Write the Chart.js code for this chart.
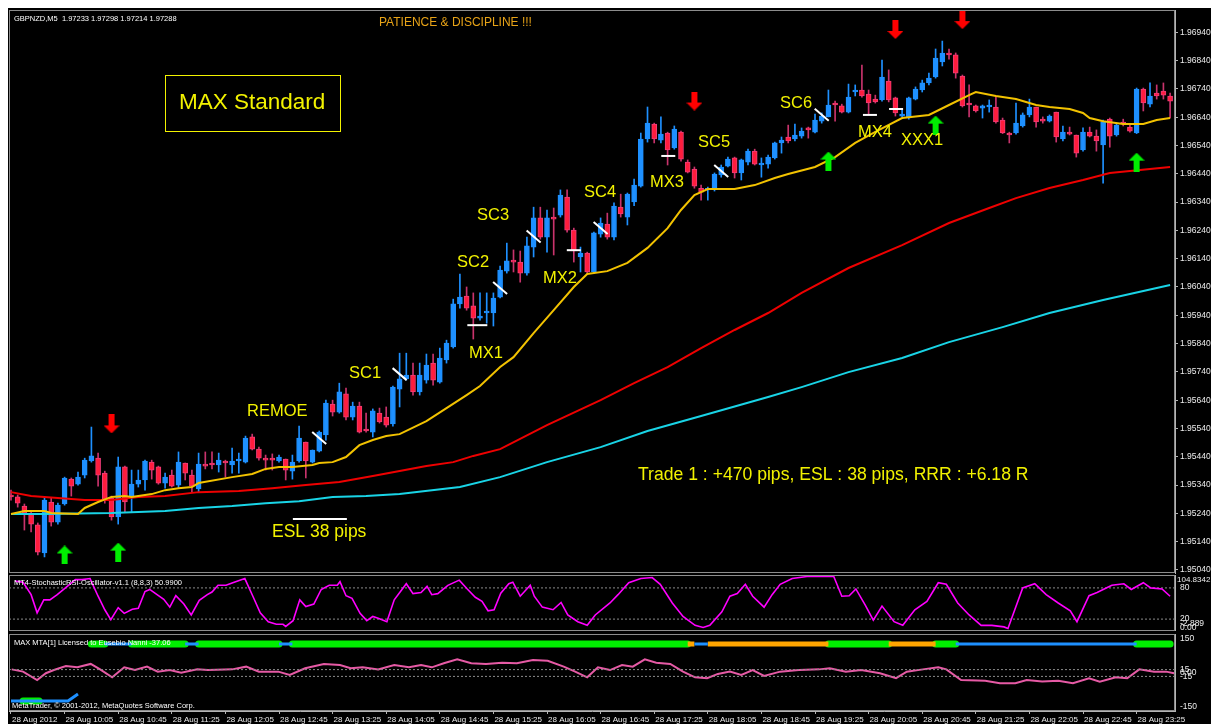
<!DOCTYPE html>
<html>
<head>
<meta charset="utf-8">
<title>GBPNZD M5</title>
<script src="https://cdn.jsdelivr.net/npm/chart.js@4.4.1/dist/chart.umd.min.js"></script>
<style>
  body { margin: 0; background: #fff; width: 1211px; height: 724px; overflow: hidden; position: relative; }
  #frame { position: absolute; left: 8px; top: 8px; width: 1203px; height: 716px; background: #000; }
  canvas { position: absolute; left: 0; }
</style>
</head>
<body>
<div id="frame"></div>
<canvas id="priceChart" width="1211" height="580" style="top:0"></canvas>
<canvas id="stochChart" width="1211" height="59" style="top:574px"></canvas>
<canvas id="mtaChart" width="1211" height="91" style="top:633px"></canvas>
<script>
// GBPNZD M5 candles, 28 Aug 2012 09:25 .. 23:50 (bar index 0..173)
const open = [
  1.95305,1.95298,1.95266,1.95241,1.95199,1.95100,1.95280,1.95209,1.95273,1.95361,
  1.95343,1.95375,1.95425,1.95435,1.95382,1.95294,1.95227,1.95404,1.95298,1.95343,
  1.95358,1.95421,1.95404,1.95347,1.95375,1.95340,1.95418,1.95375,1.95326,1.95414,
  1.95418,1.95411,1.95425,1.95411,1.95425,1.95421,1.95510,1.95467,1.95435,1.95435,
  1.95425,1.95432,1.95389,1.95425,1.95492,1.95421,1.95460,1.95517,1.95626,1.95598,
  1.95662,1.95580,1.95619,1.95538,1.95527,1.95594,1.95580,1.95556,1.95679,1.95715,
  1.95729,1.95669,1.95711,1.95771,1.95704,1.95782,1.95828,1.95980,1.96008,1.95973,
  1.95930,1.95948,1.95948,1.96004,1.96096,1.96135,1.96128,1.96089,1.96181,1.96284,
  1.96216,1.96287,1.96294,1.96358,1.96241,1.96146,1.96160,1.96093,1.96227,1.96262,
  1.96216,1.96322,1.96287,1.96341,1.96396,1.96563,1.96616,1.96559,1.96584,1.96531,
  1.96587,1.96481,1.96457,1.96389,1.96383,1.96386,1.96436,1.96467,1.96496,1.96443,
  1.96481,1.96520,1.96471,1.96474,1.96496,1.96549,1.96570,1.96563,1.96573,1.96602,
  1.96587,1.96626,1.96641,1.96690,1.96680,1.96658,1.96729,1.96736,1.96722,1.96704,
  1.96701,1.96768,1.96708,1.96644,1.96637,1.96704,1.96736,1.96761,1.96782,1.96835,
  1.96867,1.96860,1.96785,1.96690,1.96680,1.96672,1.96676,1.96676,1.96630,1.96584,
  1.96584,1.96609,1.96648,1.96676,1.96633,1.96626,1.96658,1.96563,1.96587,1.96577,
  1.96524,1.96587,1.96573,1.96542,1.96633,1.96577,1.96623,1.96605,1.96584,1.96739,
  1.96686,1.96725,1.96732,1.96715
];
const high = [
  1.95322,1.95305,1.95273,1.95251,1.95206,1.95298,1.95294,1.95276,1.95368,1.95365,
  1.95386,1.95435,1.95545,1.95453,1.95389,1.95301,1.95439,1.95407,1.95393,1.95393,
  1.95428,1.95428,1.95407,1.95382,1.95393,1.95457,1.95418,1.95393,1.95453,1.95457,
  1.95457,1.95453,1.95428,1.95471,1.95453,1.95513,1.95520,1.95474,1.95446,1.95450,
  1.95446,1.95432,1.95446,1.95548,1.95492,1.95464,1.95531,1.95640,1.95640,1.95700,
  1.95683,1.95633,1.95633,1.95594,1.95609,1.95612,1.95616,1.95690,1.95806,1.95806,
  1.95771,1.95771,1.95803,1.95803,1.95824,1.95852,1.95997,1.96086,1.96040,1.96019,
  1.96019,1.96019,1.96019,1.96114,1.96195,1.96171,1.96167,1.96216,1.96322,1.96322,
  1.96312,1.96319,1.96383,1.96383,1.96248,1.96181,1.96163,1.96234,1.96284,1.96301,
  1.96337,1.96368,1.96372,1.96421,1.96584,1.96676,1.96619,1.96641,1.96587,1.96609,
  1.96591,1.96489,1.96464,1.96400,1.96393,1.96443,1.96471,1.96499,1.96499,1.96492,
  1.96527,1.96527,1.96496,1.96506,1.96552,1.96570,1.96612,1.96616,1.96602,1.96605,
  1.96651,1.96655,1.96736,1.96697,1.96686,1.96757,1.96754,1.96824,1.96736,1.96718,
  1.96842,1.96807,1.96711,1.96665,1.96711,1.96747,1.96771,1.96796,1.96881,1.96909,
  1.96881,1.96867,1.96789,1.96754,1.96683,1.96683,1.96701,1.96715,1.96637,1.96587,
  1.96690,1.96655,1.96704,1.96676,1.96641,1.96648,1.96658,1.96609,1.96605,1.96577,
  1.96602,1.96605,1.96595,1.96630,1.96637,1.96619,1.96633,1.96612,1.96743,1.96743,
  1.96761,1.96754,1.96761,1.96725
];
const low = [
  1.95287,1.95262,1.95181,1.95174,1.95093,1.95086,1.95195,1.95202,1.95269,1.95301,
  1.95340,1.95365,1.95421,1.95336,1.95276,1.95216,1.95202,1.95245,1.95245,1.95333,
  1.95322,1.95361,1.95343,1.95329,1.95333,1.95329,1.95358,1.95315,1.95315,1.95397,
  1.95397,1.95386,1.95368,1.95382,1.95382,1.95418,1.95464,1.95428,1.95393,1.95393,
  1.95421,1.95358,1.95361,1.95421,1.95365,1.95418,1.95457,1.95499,1.95584,1.95594,
  1.95570,1.95570,1.95524,1.95527,1.95510,1.95559,1.95545,1.95548,1.95616,1.95711,
  1.95658,1.95658,1.95700,1.95693,1.95700,1.95771,1.95824,1.95965,1.95958,1.95856,
  1.95923,1.95912,1.95902,1.96001,1.96089,1.96093,1.96057,1.96082,1.96146,1.96209,
  1.96163,1.96153,1.96287,1.96234,1.96128,1.96093,1.96089,1.96089,1.96216,1.96209,
  1.96206,1.96287,1.96259,1.96327,1.96393,1.96552,1.96549,1.96549,1.96471,1.96527,
  1.96485,1.96443,1.96389,1.96347,1.96347,1.96379,1.96428,1.96464,1.96425,1.96418,
  1.96471,1.96471,1.96428,1.96460,1.96492,1.96513,1.96549,1.96556,1.96566,1.96566,
  1.96584,1.96619,1.96641,1.96626,1.96655,1.96655,1.96715,1.96711,1.96651,1.96690,
  1.96697,1.96694,1.96644,1.96641,1.96633,1.96701,1.96729,1.96754,1.96778,1.96821,
  1.96845,1.96778,1.96676,1.96641,1.96658,1.96637,1.96658,1.96619,1.96582,1.96549,
  1.96580,1.96605,1.96641,1.96605,1.96619,1.96623,1.96552,1.96556,1.96577,1.96499,
  1.96520,1.96570,1.96520,1.96407,1.96534,1.96573,1.96609,1.96587,1.96582,1.96662,
  1.96676,1.96704,1.96704,1.96637
];
const close = [
  1.95298,1.95276,1.95241,1.95202,1.95103,1.95287,1.95209,1.95269,1.95365,1.95336,
  1.95368,1.95428,1.95443,1.95375,1.95287,1.95227,1.95404,1.95280,1.95343,1.95358,
  1.95425,1.95393,1.95347,1.95368,1.95336,1.95421,1.95382,1.95336,1.95414,1.95407,
  1.95411,1.95428,1.95418,1.95425,1.95432,1.95506,1.95467,1.95435,1.95428,1.95428,
  1.95439,1.95393,1.95421,1.95506,1.95425,1.95464,1.95527,1.95630,1.95598,1.95669,
  1.95580,1.95619,1.95527,1.95531,1.95602,1.95563,1.95552,1.95686,1.95715,1.95729,
  1.95669,1.95729,1.95764,1.95711,1.95789,1.95842,1.95980,1.96004,1.95965,1.95930,
  1.95937,1.95955,1.96001,1.96100,1.96132,1.96128,1.96089,1.96185,1.96284,1.96216,
  1.96284,1.96280,1.96365,1.96241,1.96167,1.96160,1.96093,1.96231,1.96266,1.96216,
  1.96326,1.96298,1.96368,1.96400,1.96563,1.96619,1.96563,1.96580,1.96524,1.96598,
  1.96492,1.96446,1.96396,1.96375,1.96389,1.96439,1.96464,1.96492,1.96443,1.96489,
  1.96520,1.96474,1.96478,1.96499,1.96549,1.96559,1.96556,1.96577,1.96591,1.96595,
  1.96630,1.96644,1.96683,1.96683,1.96658,1.96711,1.96736,1.96715,1.96690,1.96694,
  1.96782,1.96701,1.96655,1.96651,1.96708,1.96739,1.96761,1.96778,1.96849,1.96867,
  1.96860,1.96796,1.96680,1.96683,1.96662,1.96680,1.96683,1.96623,1.96584,1.96577,
  1.96619,1.96648,1.96676,1.96623,1.96626,1.96644,1.96570,1.96587,1.96580,1.96513,
  1.96587,1.96573,1.96556,1.96623,1.96573,1.96612,1.96616,1.96591,1.96739,1.96690,
  1.96715,1.96715,1.96718,1.96697
];

// moving averages, read at these bar indexes
const maYellowBar = [0,2,5,6,10,11,13,15,17,18,20,21,23,25,27,28,33,36,38,40,42,45,46,48,50,52,54,56,58,62,65,68,70,73,75,78,81,84,86,89,92,95,98,100,102,104,108,111,114,116,120,123,126,129,133,137,140,143,144,147,150,153,155,158,160,161,163,166,169,171,173];
const maYellow = [1.95238,1.95248,1.95248,1.95241,1.95238,1.95259,1.95280,1.95298,1.95301,1.95298,1.95305,1.95308,1.95322,1.95329,1.95333,1.95347,1.95368,1.95379,1.95397,1.95404,1.95404,1.95411,1.95418,1.95421,1.95439,1.95481,1.95499,1.95513,1.95520,1.95566,1.95612,1.95658,1.95690,1.95757,1.95792,1.95877,1.95958,1.96040,1.96086,1.96096,1.96125,1.96178,1.96248,1.96312,1.96365,1.96386,1.96386,1.96400,1.96425,1.96439,1.96464,1.96499,1.96549,1.96588,1.96637,1.96648,1.96683,1.96718,1.96729,1.96715,1.96704,1.96683,1.96676,1.96669,1.96655,1.96637,1.96626,1.96616,1.96616,1.96630,1.96637];
const maRedBar = [0,3,7,11,15,19,23,28,34,39,44,49,54,58,62,66,69,73,80,88,93,98,103,108,113,118,125,133,140,146,150,155,160,164,170,173];
const maRed = [1.95315,1.95301,1.95294,1.95287,1.95287,1.95298,1.95301,1.95315,1.95319,1.95329,1.95340,1.95351,1.95372,1.95390,1.95407,1.95421,1.95443,1.95467,1.95552,1.95640,1.95700,1.95757,1.95824,1.95888,1.95948,1.96019,1.96107,1.96188,1.96266,1.96319,1.96354,1.96390,1.96418,1.96443,1.96457,1.96464];
const maCyanBar = [0,5,15,23,28,33,38,43,48,53,58,67,73,80,88,95,103,113,118,125,133,140,148,155,163,173];
const maCyan = [1.95238,1.95238,1.95241,1.95248,1.95259,1.95266,1.95276,1.95283,1.95298,1.95301,1.95308,1.95333,1.95368,1.95421,1.95474,1.95531,1.95584,1.95651,1.95686,1.95739,1.95789,1.95845,1.95898,1.95948,1.95994,1.96047];

// signal arrows
const downArrowBar = [15, 102, 132, 142];
const downArrowPrice = [1.95556, 1.96697, 1.96950, 1.96985];
const upArrowBar = [8, 16, 122, 138, 168];
const upArrowPrice = [1.95093, 1.95103, 1.96485, 1.96612, 1.96481];

// white marks drawn on the chart: [bar, price] and [bar, price, half width]
const slashMarks = [[46,1.95506],[58,1.95732],[73,1.96036],[78,1.96218],[88,1.96248],[106,1.96450],[121,1.96649]];
const dashMarks = [[69.6,1.95905,10],[84,1.96170,7],[98.1,1.96503,7],[128.2,1.96648,7],[132.1,1.96669,7],[46.1,1.95220,27]];

// StochasticRSI (8,8,3)
const stochBar = [0.6,1.8,3.0,3.9,4.9,5.8,6.9,8.4,9.6,10.6,11.8,13.0,14.0,14.9,16.0,16.9,18.1,19.0,20.0,20.7,21.8,22.8,23.7,24.6,25.8,26.9,28.1,29.3,30.0,30.9,32.1,33.1,34.9,36.1,37.2,38.4,39.6,40.6,41.0,42.1,43.1,44.0,45.2,46.3,47.5,48.7,49.1,50.0,50.9,52.1,53.1,54.0,54.9,56.1,57.2,59.0,60.0,61.2,62.1,62.8,63.7,65.2,66.9,68.1,69.3,70.3,71.2,72.1,73.1,74.3,74.9,76.0,77.5,78.1,79.3,80.9,82.1,83.1,84.6,86.0,87.2,89.4,90.6,92.2,94.0,95.7,96.9,98.7,100.3,102.1,103.3,104.3,106.1,107.3,108.4,109.6,110.7,112.4,113.6,114.8,116.6,118.8,122.8,124.0,125.1,126.1,127.5,128.7,130.0,131.8,133.1,134.9,136.7,138.4,139.6,141.3,143.0,144.8,146.4,148.2,148.8,151.0,152.8,154.5,156.3,158.1,159.1,160.9,162.1,164.3,166.1,167.2,169.0,170.1,171.8,173.0];
const stochVal = [93,91,67,32,57,57,67,83,96,96,98,64,38,19,42,31,39,41,73,77,67,58,43,65,49,28,56,67,72,85,85,90,98,64,32,15,10,10,6,17,57,44,49,77,85,85,92,65,60,31,17,25,21,15,57,88,69,71,83,67,69,85,95,78,62,54,36,38,70,88,91,64,85,64,43,38,52,28,15,8,28,51,67,90,98,100,87,51,25,8,4,8,34,64,69,87,64,43,67,87,98,102,102,64,65,78,47,18,45,15,8,38,54,90,87,51,28,8,8,5,2,80,88,67,51,36,15,65,71,85,88,77,90,80,78,64];
const stochLevels = [80, 20];

// MAX MTA
const mtaBar = [0.1,1.8,3.9,5.2,6.4,8.2,9.9,11.9,13.3,15.1,16.9,18.5,20.3,21.9,23.7,25.4,27.8,29.4,33.0,35.1,37.0,39.9,41.6,43.9,46.7,49.1,50.7,52.5,54.8,57.2,59.4,61.2,62.8,64.6,66.6,68.7,70.9,73.3,75.5,77.9,80.1,82.5,84.2,86.0,87.6,89.4,91.2,92.8,94.6,96.3,98.4,100.3,102.1,103.9,105.5,107.3,109.0,110.7,112.4,114.8,117.6,120.6,122.2,124.6,126.9,129.7,132.1,133.7,136.1,138.4,139.6,141.8,145.4,147.6,149.9,151.6,153.9,156.3,158.5,160.9,162.5,164.9,166.6,168.4,170.6,172.4,173.6];
const mtaVal = [16,6,-31,-1,13,31,25,40,16,-19,25,13,28,6,13,1,16,13,16,28,6,6,-9,21,40,35,21,25,16,35,25,35,25,43,60,43,40,45,43,57,54,28,6,-19,25,13,35,28,60,45,40,6,-19,-23,-4,6,-9,13,-13,6,13,16,21,6,13,-1,-23,6,16,25,16,-31,-34,-45,-45,-31,-38,-34,-45,-23,-38,-19,-23,16,6,6,-1];
const mtaLevels = [15, -15];
const mtaTrendLevel = 128;
const mtaSegStart = [12,14,18,26,28,40,42,101,102,104,122,131,138,141,168];
const mtaSegEnd   = [14,18,26,28,40,42,101,102,104,122,131,138,141,168,173];
const mtaSegState = ['g','b','g','b','g','b','g','o','b','o','g','o','g','b','g'];
const mtaLowBar = [0, 8.5, 10];
const mtaLowVal = [-123.5, -123.5, -93];

// axis ticks
const priceTicks = [1.9504,1.9514,1.9524,1.9534,1.9544,1.9554,1.9564,1.9574,1.9584,1.9594,1.9604,1.9614,1.9624,1.9634,1.9644,1.9654,1.9664,1.9674,1.9684,1.9694];
const timeTicks = [0,8,16,24,32,40,48,56,64,72,80,88,96,104,112,120,128,136,144,152,160,168];
const timeLabels = ['28 Aug 2012','28 Aug 10:05','28 Aug 10:45','28 Aug 11:25','28 Aug 12:05','28 Aug 12:45','28 Aug 13:25','28 Aug 14:05','28 Aug 14:45','28 Aug 15:25','28 Aug 16:05','28 Aug 16:45','28 Aug 17:25','28 Aug 18:05','28 Aug 18:45','28 Aug 19:25','28 Aug 20:05','28 Aug 20:45','28 Aug 21:25','28 Aug 22:05','28 Aug 22:45','28 Aug 23:25'];

const FONT = '"Liberation Sans", Arial, sans-serif';
const xMin = -0.2985, xMax = 173.73;
const BULL = '#1e90ff', BEAR = '#ff1d3d', BEAR_EDGE = '#f03c78', BEAR_WICK = '#c8336c';
const YELLOW_TXT = '#f2f200';
const AXIS_TXT = '#ececec';

const pts = (xs, ys) => xs.map((x, k) => ({x: x, y: ys[k]}));
const candleIdx = open.map((_, i) => i);
const isBull = candleIdx.map(i => close[i] > open[i]);

function arrowImg(color, up) {
  const c = document.createElement('canvas');
  c.width = 16; c.height = 19;
  const g = c.getContext('2d');
  g.beginPath();
  if (up) {
    g.moveTo(8, 0); g.lineTo(16, 8); g.lineTo(11, 8); g.lineTo(11, 19);
    g.lineTo(5, 19); g.lineTo(5, 8); g.lineTo(0, 8);
  } else {
    g.moveTo(8, 19); g.lineTo(16, 11); g.lineTo(11, 11); g.lineTo(11, 0);
    g.lineTo(5, 0); g.lineTo(5, 11); g.lineTo(0, 11);
  }
  g.closePath();
  g.fillStyle = color;
  g.fill();
  return c;
}

function frame(ctx, a) {
  ctx.strokeStyle = '#8c8c8c';
  ctx.lineWidth = 1;
  ctx.strokeRect(a.left + 0.5, a.top + 0.5, a.right - a.left - 1, a.bottom - a.top - 1);
  ctx.strokeStyle = '#b4b4b4';
  ctx.beginPath(); ctx.moveTo(a.right + 0.5, a.top); ctx.lineTo(a.right + 0.5, a.bottom); ctx.stroke();
}

function text(ctx, s, x, y, size, color) {
  ctx.font = size + 'px ' + FONT;
  ctx.fillStyle = color;
  ctx.textBaseline = 'middle';
  ctx.textAlign = 'left';
  ctx.fillText(s, x, y);
}

const baseOpts = (padding) => ({
  responsive: false, animation: false, devicePixelRatio: 1, events: [],
  layout: { padding: padding },
  plugins: { legend: { display: false }, tooltip: { enabled: false } }
});

// main price chart
const priceDecor = {
  id: 'priceDecor',
  afterDraw(chart) {
    const { ctx, chartArea: a, scales: { x, y } } = chart;
    ctx.save();
    frame(ctx, a);
    ctx.strokeStyle = '#ffffff';
    ctx.lineWidth = 2;
    slashMarks.forEach(([b, p]) => {
      const cx = x.getPixelForValue(b), cy = y.getPixelForValue(p);
      ctx.beginPath(); ctx.moveTo(cx - 7, cy - 6); ctx.lineTo(cx + 7, cy + 6); ctx.stroke();
    });
    dashMarks.forEach(([b, p, w]) => {
      const cx = x.getPixelForValue(b), cy = y.getPixelForValue(p);
      ctx.beginPath(); ctx.moveTo(cx - w, cy); ctx.lineTo(cx + w, cy); ctx.stroke();
    });

    text(ctx, 'GBPNZD,M5  1.97233 1.97298 1.97214 1.97288', 14, 19, 7.5, '#ffffff');
    text(ctx, 'PATIENCE & DISCIPLINE !!!', 379, 23, 12, '#e8a317');

    ctx.strokeStyle = YELLOW_TXT;
    ctx.lineWidth = 1;
    ctx.strokeRect(165.5, 75.5, 175, 56);
    text(ctx, 'MAX Standard', 179, 103, 22.5, YELLOW_TXT);

    [['REMOE', 247, 411], ['SC1', 349, 373], ['SC2', 457, 262], ['SC3', 477, 215],
     ['SC4', 584, 192], ['SC5', 698, 142], ['SC6', 780, 103], ['MX1', 469, 353],
     ['MX2', 543, 278], ['MX3', 650, 182], ['MX4', 858, 132], ['XXX1', 901, 140]]
      .forEach(([s, tx, ty]) => text(ctx, s, tx, ty, 16.5, YELLOW_TXT));
    text(ctx, 'ESL 38 pips', 272, 532, 17.5, YELLOW_TXT);
    text(ctx, 'Trade 1 : +470 pips, ESL : 38 pips, RRR : +6.18 R', 638, 475, 17.6, YELLOW_TXT);
    ctx.restore();
  }
};

new Chart(document.getElementById('priceChart'), {
  type: 'bar',
  data: {
    datasets: [
      {
        label: 'wick', order: 6, grouped: false, barThickness: 1, minBarLength: 1,
        data: candleIdx.map(i => ({x: i, y: [low[i], high[i]]})),
        backgroundColor: candleIdx.map(i => isBull[i] ? BULL : BEAR_WICK)
      },
      {
        label: 'body', order: 5, grouped: false, barThickness: 5, minBarLength: 1,
        borderWidth: 1, borderSkipped: false,
        data: candleIdx.map(i => ({x: i, y: [open[i], close[i]]})),
        backgroundColor: candleIdx.map(i => isBull[i] ? BULL : BEAR),
        borderColor: candleIdx.map(i => isBull[i] ? BULL : BEAR_EDGE)
      },
      { type: 'line', order: 4, data: pts(maCyanBar, maCyan), borderColor: '#19d4e6', borderWidth: 2, pointRadius: 0 },
      { type: 'line', order: 3, data: pts(maRedBar, maRed), borderColor: '#ee0000', borderWidth: 2, pointRadius: 0 },
      { type: 'line', order: 2, data: pts(maYellowBar, maYellow), borderColor: '#f2c200', borderWidth: 2, pointRadius: 0 },
      { type: 'line', order: 1, showLine: false, data: pts(downArrowBar, downArrowPrice), pointStyle: arrowImg('#ff0000', false) },
      { type: 'line', order: 1, showLine: false, data: pts(upArrowBar, upArrowPrice), pointStyle: arrowImg('#00ee00', true) }
    ]
  },
  options: Object.assign(baseOpts({ left: 9, top: 10, right: 0, bottom: 7 }), {
    scales: {
      x: { type: 'linear', min: xMin, max: xMax, offset: false, display: false, grid: { offset: false } },
      y: {
        type: 'linear', position: 'right', min: 1.950292, max: 1.970188, beginAtZero: false,
        afterFit(s) { s.width = 36; s.paddingTop = 0; s.paddingBottom = 0; },
        afterBuildTicks(s) { s.ticks = priceTicks.map(v => ({value: v})); },
        ticks: { color: AXIS_TXT, font: { family: FONT, size: 8.5 }, padding: 2, callback: v => v.toFixed(5) },
        grid: { drawOnChartArea: false, tickLength: 3, color: '#b4b4b4' },
        border: { color: '#b4b4b4' }
      }
    }
  }),
  plugins: [priceDecor]
});

// StochasticRSI panel
const stochDecor = {
  id: 'stochDecor',
  afterDraw(chart) {
    const { ctx, chartArea: a, scales: { y } } = chart;
    ctx.save();
    frame(ctx, a);
    text(ctx, 'MT4-StochasticRSI-Oscillator-v1.1 (8,8,3) 50.9900', 14, 9, 7.5, '#ffffff');
    text(ctx, '104.8342', a.right + 2, 6, 8, AXIS_TXT);
    const lbl = [['80', y.getPixelForValue(80)], ['20', y.getPixelForValue(20)], ['-2.889', 50], ['0.00', 54]];
    lbl.forEach(([s, ty]) => text(ctx, s, a.right + 5, ty, 8.5, AXIS_TXT));
    ctx.restore();
  }
};

new Chart(document.getElementById('stochChart'), {
  type: 'line',
  data: {
    datasets: [
      { data: pts(stochBar, stochVal), borderColor: '#ff00ff', borderWidth: 1.6, pointRadius: 0 },
    ].concat(stochLevels.map(v => ({
      data: [{x: xMin, y: v}, {x: xMax, y: v}], borderColor: '#8c8c8c', borderWidth: 1, borderDash: [2, 2], pointRadius: 0
    })))
  },
  options: Object.assign(baseOpts({ left: 9, top: 1, right: 36, bottom: 2 }), {
    scales: {
      x: { type: 'linear', min: xMin, max: xMax, display: false },
      y: { type: 'linear', min: -2.889, max: 104.8342, display: false }
    }
  }),
  plugins: [stochDecor]
});

// MAX MTA panel
const mtaDecor = {
  id: 'mtaDecor',
  afterDraw(chart) {
    const { ctx, chartArea: a, scales: { y } } = chart;
    ctx.save();
    frame(ctx, a);
    text(ctx, 'MAX MTA[1] Licensed to Eusebio Nanni -37.06', 14, 10, 7.5, '#ffffff');
    text(ctx, 'MetaTrader, \u00a9 2001-2012, MetaQuotes Software Corp.', 12, 73, 7.5, '#ffffff');
    [['150', 150], ['15', 15], ['0.00', 0], ['-15', -15], ['-150', -150]]
      .forEach(([s, v]) => text(ctx, s, a.right + 5, y.getPixelForValue(v), 8.5, AXIS_TXT));
    ctx.restore();
  }
};

function segData(state) {
  const out = [];
  mtaSegState.forEach((s, k) => {
    if (s === state) {
      out.push({x: mtaSegStart[k], y: mtaTrendLevel}, {x: mtaSegEnd[k], y: mtaTrendLevel}, {x: mtaSegEnd[k], y: null});
    }
  });
  return out;
}

new Chart(document.getElementById('mtaChart'), {
  type: 'line',
  data: {
    datasets: mtaLevels.map(v => ({
      data: [{x: xMin, y: v}, {x: xMax, y: v}], borderColor: '#8c8c8c', borderWidth: 1, borderDash: [2, 2], pointRadius: 0
    })).concat([
      { data: pts(mtaBar, mtaVal), borderColor: '#e65aa5', borderWidth: 2, pointRadius: 0 },
      { data: segData('b'), borderColor: '#1e90ff', borderWidth: 3, pointRadius: 0, spanGaps: false },
      { data: segData('o'), borderColor: '#ffa500', borderWidth: 5, pointRadius: 0, spanGaps: false },
      { data: segData('g'), borderColor: '#00ee00', borderWidth: 7, borderCapStyle: 'round', pointRadius: 0, spanGaps: false },
      { data: pts(mtaLowBar, mtaLowVal), borderColor: '#1e90ff', borderWidth: 3, pointRadius: 0 },
      { data: [{x: 1.8, y: -123.5}, {x: 4.2, y: -123.5}], borderColor: '#00ee00', borderWidth: 7, borderCapStyle: 'round', pointRadius: 0 }
    ])
  },
  options: Object.assign(baseOpts({ left: 9, top: 1, right: 36, bottom: 0 }), {
    scales: {
      x: {
        type: 'linear', min: xMin, max: xMax, position: 'bottom',
        afterFit(s) { s.height = 13; s.paddingLeft = 0; s.paddingRight = 0; },
        afterBuildTicks(s) { s.ticks = timeTicks.map(v => ({value: v})); },
        ticks: {
          color: AXIS_TXT, font: { family: FONT, size: 8 }, align: 'start', labelOffset: 1,
          maxRotation: 0, autoSkip: false, padding: 1, callback: (v, k) => timeLabels[k]
        },
        grid: { drawOnChartArea: false, tickLength: 3, color: '#b4b4b4' },
        border: { color: '#b4b4b4' }
      },
      y: { type: 'linear', min: -167.65, max: 172.06, display: false }
    }
  }),
  plugins: [mtaDecor]
});
</script>
</body>
</html>
